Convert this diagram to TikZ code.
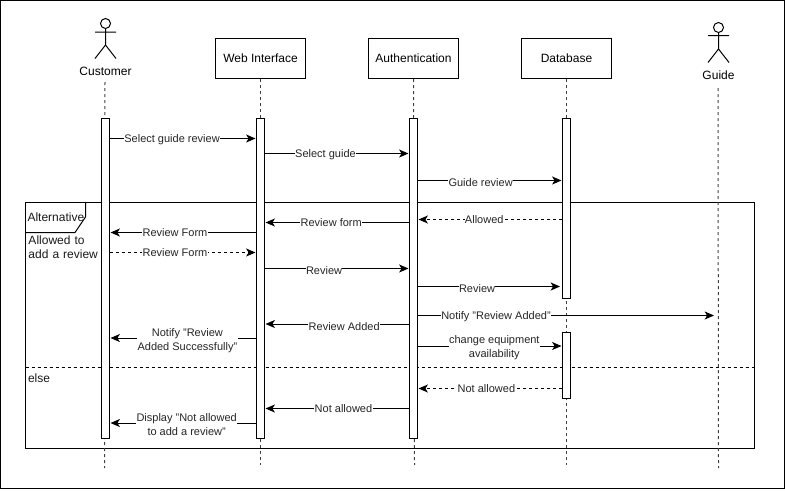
\documentclass[tikz,border=0pt]{standalone}
\usepackage{fontspec}
\setmainfont{Liberation Sans}
\usetikzlibrary{arrows.meta}
\tikzset{
  x=0.75pt,y=-0.75pt,
  every path/.style={line width=0.75pt},
  hdrbox/.style={draw,fill=white,minimum width=67.5pt,minimum height=30pt,inner sep=0pt,font=\fontsize{9}{10.5}\selectfont},
  act/.style={draw,fill=white,minimum width=6pt,inner sep=0pt},
  actorname/.style={inner sep=0pt,font=\fontsize{9}{10.5}\selectfont},
  life/.style={dash pattern=on 2.25pt off 2.25pt,black!75},
  msg/.style={-{Stealth[length=7pt,width=6pt,inset=1.8pt]},line width=0.75pt,shorten >=0.4pt},
  ret/.style={msg,dash pattern=on 2.25pt off 2.25pt},
  lbl/.style={fill=white,inner sep=0.3pt,align=center,text=black!85,font=\fontsize{8.25}{10.5}\selectfont},
  ml/.style={fill=white,inner xsep=0.3pt,inner ysep=0.5pt,align=center,text=black!85,font=\fontsize{8.25}{10.5}\selectfont},
  ftxt/.style={inner sep=0pt,anchor=west,align=left,text=black!90,font=\fontsize{9}{10.5}\selectfont},
}
\begin{document}
\begin{tikzpicture}
\useasboundingbox (0,0) rectangle (785,490);
\draw (0.5,0.5) rectangle (784,488);
% combined fragment
\draw (25.5,202.5) rectangle (754.5,448.5);
\draw (25.5,232.5) -- (75,232.5) -- (85.5,217) -- (85.5,202.5);
\draw[dash pattern=on 2.25pt off 2.25pt] (25.5,367.5) -- (754.5,367.5);
\node[ftxt] (falt) at (27,217) {Alternative};
\node[ftxt,text width=70pt] (fcond) at (28,247) {Allowed to\\add a review};
\node[ftxt] (felse) at (27.5,378) {else};
% header boxes
\node[hdrbox] (web) at (260.5,58.5) {Web Interface};
\node[hdrbox] (auth) at (413.5,58.5) {Authentication};
\node[hdrbox] (db) at (566.5,58.5) {Database};
% actors
\node[draw,circle,minimum size=7.5pt,inner sep=0pt] (chead) at (105.5,23.5) {};
\draw (chead.south) -- (105.5,45) (95,32) -- (116,32) (95,58.5) -- (105.5,45) -- (116,58.5);
\node[actorname] (cust) at (105.5,71.5) {Customer};
\node[draw,circle,minimum size=7.5pt,inner sep=0pt] (ghead) at (718.5,27.5) {};
\draw (ghead.south) -- (718.5,49) (708,35.5) -- (729,35.5) (708,62.5) -- (718.5,49) -- (729,62.5);
\node[actorname] (guide) at (718.5,75.5) {Guide};
\coordinate (ctop) at (105,82);
\coordinate (cbot) at (104.5,468);
\coordinate (wbot) at (260.5,465);
\coordinate (abot) at (414.5,465);
\coordinate (dbot) at (566.5,465);
\coordinate (gtop) at (718,88);
\coordinate (gbot) at (718.5,468);
% lifelines
\draw[life] (ctop) -- (cbot);
\draw[life] (web.south) -- (wbot);
\draw[life] (auth.south) -- (abot);
\draw[life] (db.south) -- (dbot);
\draw[life] (gtop) -- (gbot);
% activations
\node[act,minimum height=239.5pt] (ca) at (105.5,278.5) {};
\node[act,minimum height=239.5pt] (wa) at (260.5,278.5) {};
\node[act,minimum height=239.5pt] (aa) at (413.5,278.5) {};
\node[act,minimum height=135pt] (da) at (566.5,208.5) {};
\node[act,minimum height=49.5pt] (db2) at (566.5,365.5) {};
% messages
\draw[msg] (ca.east |- 0,138.5) -- node[lbl,pos=.425,yshift=-1.2pt] (m1) {Select guide review} (wa.west |- 0,138.5);
\draw[msg] (wa.east |- 0,153.5) -- node[lbl,pos=.42,yshift=-1.2pt] (m2) {Select guide} (aa.west |- 0,153.5);
\draw[msg] (aa.east |- 0,180.5) -- node[lbl,pos=.435,yshift=-1.2pt] (m3) {Guide review} (da.west |- 0,180.5);
\draw[ret] (da.west |- 0,219.5) -- node[lbl,pos=.54] (m4) {Allowed} (aa.east |- 0,219.5);
\draw[msg] (aa.west |- 0,222.5) -- node[lbl,pos=.54] (m5) {Review form} (wa.east |- 0,222.5);
\draw[msg] (wa.west |- 0,232.5) -- node[lbl,pos=.555] (m6) {Review Form} (ca.east |- 0,232.5);
\draw[ret] (ca.east |- 0,252.5) -- node[lbl,pos=.445] (m7) {Review Form} (wa.west |- 0,252.5);
\draw[msg] (wa.east |- 0,268.5) -- node[lbl,pos=.41,yshift=-1.2pt] (m8) {Review} (aa.west |- 0,268.5);
\draw[msg,shorten >=1.5pt] (aa.east |- 0,286.5) -- node[lbl,pos=.41,yshift=-1.2pt] (m9) {Review} (da.west |- 0,286.5);
\draw[msg,shorten >=3pt] (aa.east |- 0,315.5) -- node[lbl,pos=.26,yshift=-.6pt] (m10) {Notify "Review Added"} (gtop |- 0,315.5);
\draw[msg] (aa.west |- 0,324) -- node[lbl,pos=.45,yshift=-2.2pt] (m11) {Review Added} (wa.east |- 0,324);
\draw[msg] (wa.west |- 0,338) -- node[ml,pos=.47,yshift=-1.8pt] (m12) {Notify "Review\\Added Successfully"} (ca.east |- 0,338);
\draw[msg] (aa.east |- 0,346) -- node[ml,pos=.53,yshift=-1pt] (m13) {change equipment\\availability} (db2.west |- 0,346);
\draw[ret] (db2.west |- 0,388.5) -- node[lbl,pos=.525] (m14) {Not allowed} (aa.east |- 0,388.5);
\draw[msg] (aa.west |- 0,408.5) -- node[lbl,pos=.455] (m15) {Not allowed} (wa.east |- 0,408.5);
\draw[msg] (wa.west |- 0,423) -- node[ml,pos=.475,yshift=-1.3pt] (m16) {Display "Not allowed\\to add a review"} (ca.east |- 0,423);
\end{tikzpicture}
\end{document}
